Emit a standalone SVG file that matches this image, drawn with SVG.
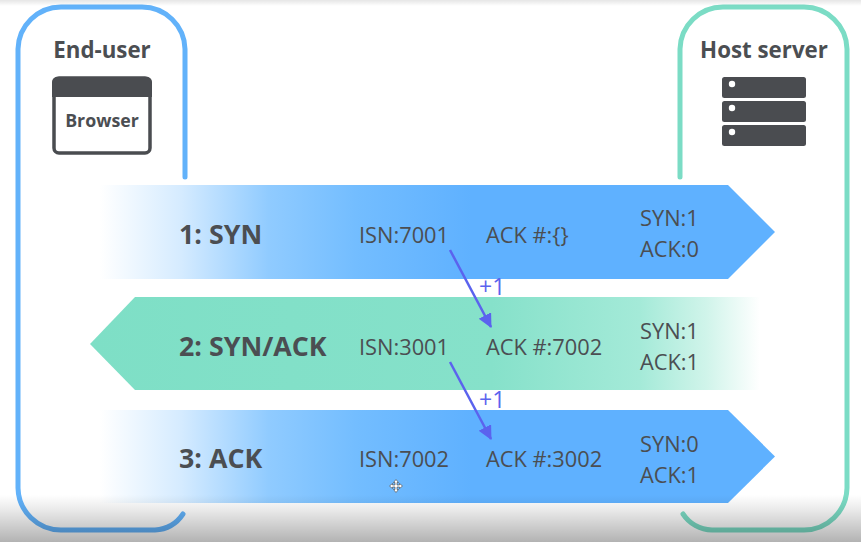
<svg xmlns="http://www.w3.org/2000/svg" width="861" height="542" viewBox="0 0 861 542">
<defs>
<linearGradient id="blue" gradientUnits="userSpaceOnUse" x1="100" y1="0" x2="775" y2="0"><stop offset="0" stop-color="#fff"/><stop offset="0.12" stop-color="#d5ebff"/><stop offset="0.25" stop-color="#90cbff"/><stop offset="0.38" stop-color="#73bdff"/><stop offset="0.55" stop-color="#5fb1ff"/><stop offset="1" stop-color="#5fb1ff"/></linearGradient>
<linearGradient id="green" gradientUnits="userSpaceOnUse" x1="90" y1="0" x2="760" y2="0"><stop offset="0" stop-color="#7edfc6"/><stop offset="0.6" stop-color="#86e1ca"/><stop offset="0.82" stop-color="#a4ead8"/><stop offset="0.92" stop-color="#d0f4ea"/><stop offset="1" stop-color="#fff"/></linearGradient>
<linearGradient id="shade" x1="0" y1="0" x2="0" y2="1"><stop offset="0" stop-color="#000" stop-opacity="0"/><stop offset="0.3" stop-color="#000" stop-opacity="0.08"/><stop offset="1" stop-color="#000" stop-opacity="0.3"/></linearGradient>
<linearGradient id="topshade" x1="0" y1="0" x2="0" y2="1"><stop offset="0" stop-color="#000" stop-opacity="0.1"/><stop offset="1" stop-color="#000" stop-opacity="0"/></linearGradient>
<marker id="head" markerUnits="userSpaceOnUse" markerWidth="16" markerHeight="16" refX="13" refY="7" orient="auto"><path d="M0 0L14 7L0 14Z" fill="#5b63ee"/></marker>
<style>
text{font-family:"Open Sans","Liberation Sans",sans-serif;fill:#4b4e52}
.h{font-size:22.300px;font-weight:700}
.s{font-size:26.800px;font-weight:700}
.t{font-size:21.800px}
.p{font-size:23px;fill:#5b63ee}
.box{fill:none;stroke-width:5;stroke-linecap:round}
.link{stroke:#5b63ee;stroke-width:2.500;fill:none;marker-end:url(#head)}
.dark{fill:#4a4c50}
</style>
</defs>
<rect width="861" height="542" fill="#fff"/>
<g id="end-user">
<path class="box" stroke="#62b2fa" d="M185 177V49A43 43 0 0 0 142 7H61A43 43 0 0 0 18 49V488A43 43 0 0 0 61 530H155A36 36 0 0 0 183 514"/>
<text class="h" x="102" y="57.500" text-anchor="middle">End-user</text>
<g id="browser">
<rect x="54" y="78" width="96" height="75" rx="5" fill="#fff" stroke="#4a4c50" stroke-width="3.500"/>
<path class="dark" d="M52 82a5 5 0 0 1 5-5h90a5 5 0 0 1 5 5v15H52Z"/>
<text x="102" y="127" text-anchor="middle" style="font-size:17.800px;font-weight:700">Browser</text>
</g>
</g>
<g id="host-server">
<path class="box" stroke="#7bdcc5" d="M680 177V49A43 43 0 0 1 723 7H804A43 43 0 0 1 847 49V488A43 43 0 0 1 804 530H712A36 36 0 0 1 683 514"/>
<text class="h" x="764" y="57.500" text-anchor="middle">Host server</text>
<g id="server">
<rect class="dark" x="722" y="77" width="84" height="21" rx="2.500"/>
<rect class="dark" x="722" y="101" width="84" height="21" rx="2.500"/>
<rect class="dark" x="722" y="125" width="84" height="21" rx="2.500"/>
<circle cx="732" cy="84" r="3.200" fill="#fff"/>
<circle cx="732" cy="108" r="3.200" fill="#fff"/>
<circle cx="732" cy="132" r="3.200" fill="#fff"/>
</g>
</g>
<g id="step-1">
<path fill="url(#blue)" d="M100 185H728L775 232L728 279H100Z"/>
<text class="s" x="179" y="244">1: SYN</text>
<text class="t" x="359" y="243">ISN:7001</text>
<text class="t" x="486" y="243">ACK #:{}</text>
<text class="t" x="640" y="225.500">SYN:1</text>
<text class="t" x="640" y="257">ACK:0</text>
</g>
<g id="step-2">
<path fill="url(#green)" d="M760 297H135L90 344L135 390H760Z"/>
<text class="s" x="179" y="356">2: SYN/ACK</text>
<text class="t" x="359" y="355">ISN:3001</text>
<text class="t" x="486" y="355">ACK #:7002</text>
<text class="t" x="640" y="338.500">SYN:1</text>
<text class="t" x="640" y="370">ACK:1</text>
</g>
<g id="step-3">
<path fill="url(#blue)" d="M100 410H728L775 456.500L728 503H100Z"/>
<text class="s" x="179" y="468">3: ACK</text>
<text class="t" x="359" y="467">ISN:7002</text>
<text class="t" x="486" y="467">ACK #:3002</text>
<text class="t" x="640" y="451.500">SYN:0</text>
<text class="t" x="640" y="482.500">ACK:1</text>
</g>
<g id="connectors">
<path class="link" d="M450 250L491 327"/>
<path class="link" d="M450 362L491 439"/>
</g>
<text class="p" x="479" y="295">+1</text>
<text class="p" x="479" y="407.500">+1</text>
<rect y="495" width="861" height="47" fill="url(#shade)"/>
<rect width="861" height="6" fill="url(#topshade)"/>
<g id="cursor" fill="#fff" stroke="#555" stroke-width="0.700"><path d="M396 479.500L398.500 482.500H397V485H399.500V483.500L402.500 486L399.500 488.500V487H397V489.500H398.500L396 492.500L393.500 489.500H395V487H392.500V488.500L389.500 486L392.500 483.500V485H395V482.500H393.500Z"/></g>
</svg>
